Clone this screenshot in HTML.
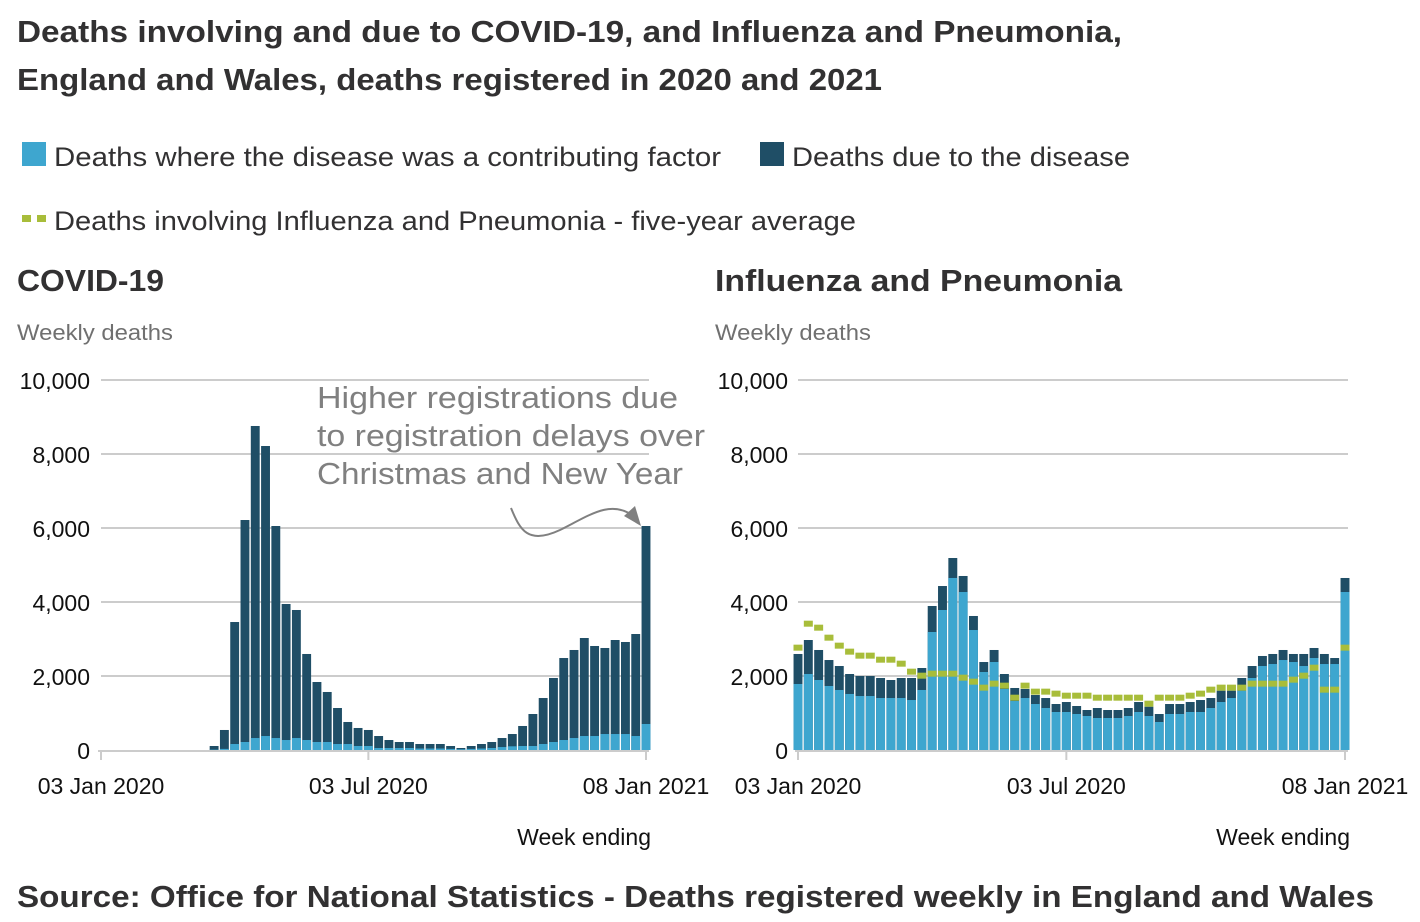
<!DOCTYPE html>
<html><head><meta charset="utf-8"><style>
html,body{margin:0;padding:0;background:#fff;}
svg{display:block;font-family:"Liberation Sans",sans-serif;}
</style></head><body>
<svg id="chart" width="1420" height="922" viewBox="0 0 1420 922">
<text x="17" y="42" font-size="31" font-weight="bold" fill="#323132" textLength="1105" lengthAdjust="spacingAndGlyphs">Deaths involving and due to COVID-19, and Influenza and Pneumonia,</text>
<text x="17" y="90" font-size="31" font-weight="bold" fill="#323132" textLength="865" lengthAdjust="spacingAndGlyphs">England and Wales, deaths registered in 2020 and 2021</text>
<g>
<rect x="22" y="142" width="24" height="24" fill="#3ea6cf"/>
<text x="54" y="166" font-size="27" fill="#323132" textLength="667" lengthAdjust="spacingAndGlyphs">Deaths where the disease was a contributing factor</text>
<rect x="760" y="142" width="24" height="24" fill="#1f4e66"/>
<text x="792" y="166" font-size="27" fill="#323132" textLength="338" lengthAdjust="spacingAndGlyphs">Deaths due to the disease</text>
<rect x="22" y="215" width="9" height="7" fill="#a8bd3a"/>
<rect x="37" y="215" width="9" height="7" fill="#a8bd3a"/>
<text x="54" y="230" font-size="27" fill="#323132" textLength="802" lengthAdjust="spacingAndGlyphs">Deaths involving Influenza and Pneumonia - five-year average</text>
</g>
<text x="17" y="291" font-size="31" font-weight="bold" fill="#323132" textLength="147" lengthAdjust="spacingAndGlyphs">COVID-19</text>
<text x="715" y="291" font-size="31" font-weight="bold" fill="#323132" textLength="407" lengthAdjust="spacingAndGlyphs">Influenza and Pneumonia</text>
<text x="17" y="340" font-size="22" fill="#707070" textLength="156" lengthAdjust="spacingAndGlyphs">Weekly deaths</text>
<text x="715" y="340" font-size="22" fill="#707070" textLength="156" lengthAdjust="spacingAndGlyphs">Weekly deaths</text>
<g id="p1"></g><g id="p2"></g>
<g>
<text x="317" y="408" font-size="31" fill="#808080" textLength="361" lengthAdjust="spacingAndGlyphs">Higher registrations due</text>
<text x="317" y="446" font-size="31" fill="#808080" textLength="388" lengthAdjust="spacingAndGlyphs">to registration delays over</text>
<text x="317" y="484" font-size="31" fill="#808080" textLength="366" lengthAdjust="spacingAndGlyphs">Christmas and New Year</text>
<path d="M511 508 C520 530 528 545 560 530 C590 515 610 500 632 515" fill="none" stroke="#808080" stroke-width="2"/>
<polygon points="641,526 624,516 635,506" fill="#808080"/>
</g>
<text x="17" y="907" font-size="31" font-weight="bold" fill="#323132" textLength="1357" lengthAdjust="spacingAndGlyphs">Source: Office for National Statistics - Deaths registered weekly in England and Wales</text>
</svg>
<script>
const yTicks = [0, 2000, 4000, 6000, 8000, 10000];
const yTickLabels = ["0", "2,000", "4,000", "6,000", "8,000", "10,000"];
const xTickIndex = [0, 26, 53];
const xTickLabels = ["03 Jan 2020", "03 Jul 2020", "08 Jan 2021"];
const covidTotal = [0,0,0,0,0,0,0,0,0,0,0,108,541,3459,6216,8757,8216,6054,3946,3784,2595,1838,1568,1135,757,595,541,378,270,216,216,162,162,162,108,54,108,162,216,324,432,649,973,1405,1946,2486,2703,3027,2811,2757,2973,2919,3135,6054];
const covidContrib = [0,0,0,0,0,0,0,0,0,0,0,10,30,162,216,324,378,324,270,324,270,216,216,162,162,108,108,54,54,54,54,40,40,40,30,20,30,40,54,80,100,108,108,162,216,270,324,378,378,432,432,432,378,703];
const fluTotal = [2595,2973,2703,2432,2270,2054,2000,2000,1946,1892,1946,1946,2216,3892,4432,5189,4703,3622,2378,2703,2054,1676,1649,1486,1405,1243,1297,1189,1081,1135,1081,1081,1135,1297,1171,973,1243,1243,1297,1351,1405,1604,1604,1946,2270,2541,2595,2703,2595,2595,2757,2595,2486,4649];
const fluContrib = [1784,2054,1892,1730,1622,1514,1459,1459,1405,1405,1405,1351,1622,3189,3784,4649,4270,3243,2108,2378,1649,1324,1405,1243,1135,1027,1027,973,919,865,865,865,919,1027,919,757,973,973,1027,1027,1135,1297,1405,1604,1946,2270,2324,2432,2378,2270,2486,2324,2324,4270];
const fluAverage = [2766,3414,3306,3036,2820,2658,2550,2550,2441,2441,2333,2117,2009,2063,2063,2063,1955,1847,1685,1793,1739,1414,1739,1577,1577,1523,1468,1468,1468,1414,1414,1414,1414,1414,1252,1414,1414,1414,1468,1523,1631,1685,1685,1685,1793,1793,1793,1793,1901,2009,2225,1631,1631,2766];

const NS = "http://www.w3.org/2000/svg";
function mk(parent, tag, attrs, text) {
  const e = document.createElementNS(NS, tag);
  for (const k in attrs) e.setAttribute(k, attrs[k]);
  if (text !== undefined) e.textContent = text;
  parent.appendChild(e);
  return e;
}
function panel(g, x0, x1, labelX, total, contrib, avg, prefix) {
  const y = v => 750 - v * 0.037;
  const step = (x1 - x0) / 53;
  const x = i => x0 + i * step;
  yTicks.forEach((t, k) => {
    if (t > 0) {
      const l = mk(g, "line", {x1: x0, x2: x1 + 3, y1: y(t), y2: y(t), stroke: "#cccccc", "stroke-width": 2});
      
      
    }
    const tx = mk(g, "text", {x: labelX, y: y(t) + 9, "font-size": 23, fill: "#111", "text-anchor": "end"}, yTickLabels[k]);
    
    
  });
  total.forEach((v, i) => {
    if (v <= 0) return;
    const bw = step - 1.4;
    const d = mk(g, "rect", {x: x(i) - bw / 2, y: y(v), width: bw, height: 750 - y(v), fill: "#1f4e66"});
    
    
    const c = mk(g, "rect", {x: x(i) - bw / 2, y: y(contrib[i]), width: bw, height: 750 - y(contrib[i]), fill: "#3ea6cf"});
    
    
  });
  if (avg) {
    avg.forEach((v, i) => {
      const m = mk(g, "rect", {x: x(i) - 4.5, y: y(v) - 3, width: 9, height: 6, fill: "#a8bd3a"});
      
      
    });
  }
  const ax = mk(g, "line", {x1: x0 - 3, x2: x1 + 3, y1: 751, y2: 751, stroke: "#cccccc", "stroke-width": 2});
  
  
  xTickIndex.forEach((ti, k) => {
    const tk = mk(g, "line", {x1: x(ti), x2: x(ti), y1: 751, y2: 760, stroke: "#cccccc", "stroke-width": 2});
    
    
    const tl = mk(g, "text", {x: x(ti), y: 794, "font-size": 23, fill: "#111", "text-anchor": "middle"}, xTickLabels[k]);
    
    
  });
  const xt = mk(g, "text", {x: x1 + 5, y: 845, "font-size": 23, fill: "#111", "text-anchor": "end"}, "Week ending");
  
  
}
panel(document.getElementById("p1"), 101, 646, 90, covidTotal, covidContrib, null, "covid");
panel(document.getElementById("p2"), 798, 1345, 788, fluTotal, fluContrib, fluAverage, "flu");
</script>
</body></html>
